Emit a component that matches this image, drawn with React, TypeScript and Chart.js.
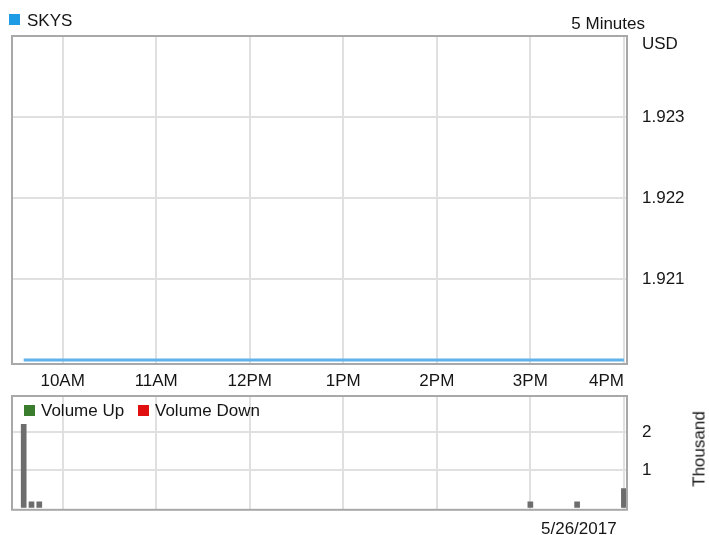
import React, { useEffect, useRef } from "react";
import { Chart, registerables } from "chart.js";

Chart.register(...registerables);

// ---- text ----
const SYMBOL = "SKYS";
const INTERVAL_LABEL = "5 Minutes";
const CURRENCY_LABEL = "USD";
const DATE_LABEL = "5/26/2017";
const VOLUME_UNIT_LABEL = "Thousand";
const VOLUME_UP_LABEL = "Volume Up";
const VOLUME_DOWN_LABEL = "Volume Down";

// ---- data ----
const PRICE_TIMES = ["9:35", "9:40", "9:45", "15:00", "15:30", "16:00"];
const PRICE_VALUES = [1.92, 1.92, 1.92, 1.92, 1.92, 1.92];

const VOLUME_TIMES = ["9:35", "9:40", "9:45", "15:00", "15:30", "16:00"];
const VOLUME_VALUES = [2.21, 0.15, 0.15, 0.15, 0.15, 0.5]; // thousands

const HOUR_TICK_TIMES = ["10:00", "11:00", "12:00", "13:00", "14:00", "15:00", "16:00"];
const HOUR_TICK_LABELS = ["10AM", "11AM", "12PM", "1PM", "2PM", "3PM", "4PM"];

const PRICE_TICKS = [1.921, 1.922, 1.923];
const VOLUME_TICKS = [1, 2];

const X_RANGE = ["9:27.5", "16:02"];
const PRICE_RANGE = [1.91995, 1.924];
const VOLUME_RANGE = [-0.06, 2.96];

// ---- helpers ----
const toMin = (t: string) => {
  const [h, m] = t.split(":").map(Number);
  return h * 60 + m;
};

const FONT = "'Liberation Sans', Arial, sans-serif";
const TEXT_COLOR = "#151515";
const GRID_COLOR = "#e0e0e0";
const FRAME_COLOR = "#a8a8a8";

const framePlugin = {
  id: "frame",
  afterDraw(chart: any) {
    const { ctx, chartArea: a } = chart;
    ctx.save();
    ctx.strokeStyle = FRAME_COLOR;
    ctx.lineWidth = 2;
    ctx.strokeRect(a.left, a.top, a.right - a.left, a.bottom - a.top);
    ctx.restore();
  },
};

export default function App() {
  const priceRef = useRef<HTMLCanvasElement>(null);
  const volRef = useRef<HTMLCanvasElement>(null);

  useEffect(() => {
    Chart.defaults.font.family = FONT;
    Chart.defaults.font.size = 17;
    Chart.defaults.color = TEXT_COLOR;

    const xMin = toMin(X_RANGE[0]);
    const xMax = toMin(X_RANGE[1]);
    const hourTicks = HOUR_TICK_TIMES.map(toMin);

    const priceChart = new Chart(priceRef.current!, {
      type: "line",
      data: {
        datasets: [
          {
            label: SYMBOL,
            data: PRICE_TIMES.map((t, i) => ({ x: toMin(t), y: PRICE_VALUES[i] })),
            borderColor: "#5fb3ea",
            borderWidth: 3,
            pointRadius: 0,
            tension: 0,
          },
        ],
      },
      options: {
        responsive: false,
        animation: false,
        devicePixelRatio: 1,
        layout: { padding: { left: 12, top: 36, right: 0, bottom: 141 } },
        plugins: { legend: { display: false }, tooltip: { enabled: false } },
        scales: {
          x: {
            type: "linear",
            min: xMin,
            max: xMax,
            border: { display: false },
            grid: { color: GRID_COLOR, lineWidth: 2, drawTicks: false },
            ticks: {
              autoSkip: false,
              maxRotation: 0,
              padding: 7,
              align: "inner",
              color: TEXT_COLOR,
              callback: (_v: any, index: number) => (index === 0 ? "" : HOUR_TICK_LABELS[index - 1]),
            },
            afterBuildTicks: (s: any) => {
              s.ticks = [xMin, ...hourTicks].map((v) => ({ value: v }));
            },
            afterFit: (s: any) => {
              s.height = 30;
            },
          },
          y: {
            type: "linear",
            position: "right",
            min: PRICE_RANGE[0],
            max: PRICE_RANGE[1],
            border: { display: false },
            grid: { color: GRID_COLOR, lineWidth: 2, drawTicks: false },
            ticks: {
              padding: 15,
              color: TEXT_COLOR,
              callback: (v: any) => Number(v).toFixed(3),
            },
            afterBuildTicks: (s: any) => {
              s.ticks = PRICE_TICKS.map((v) => ({ value: v }));
            },
            afterFit: (s: any) => {
              s.width = 82;
            },
          },
        },
      },
      plugins: [framePlugin],
    } as any);

    const volChart = new Chart(volRef.current!, {
      type: "bar",
      data: {
        datasets: [
          {
            label: "Volume",
            data: VOLUME_TIMES.map((t, i) => ({ x: toMin(t), y: VOLUME_VALUES[i] })),
            backgroundColor: "#6d6d6d",
            barThickness: 5,
          },
        ],
      },
      options: {
        responsive: false,
        animation: false,
        devicePixelRatio: 1,
        layout: { padding: { left: 12, top: 396, right: 0, bottom: 25 } },
        plugins: { legend: { display: false }, tooltip: { enabled: false } },
        scales: {
          x: {
            type: "linear",
            min: xMin,
            max: xMax,
            offset: false,
            border: { display: false },
            grid: { color: GRID_COLOR, lineWidth: 2, drawTicks: false, offset: false },
            ticks: { display: false },
            afterBuildTicks: (s: any) => {
              s.ticks = hourTicks.map((v) => ({ value: v }));
            },
            afterFit: (s: any) => {
              s.height = 0;
            },
          },
          y: {
            type: "linear",
            position: "right",
            min: VOLUME_RANGE[0],
            max: VOLUME_RANGE[1],
            border: { display: false },
            grid: { color: GRID_COLOR, lineWidth: 2, drawTicks: false },
            ticks: {
              padding: 15,
              color: TEXT_COLOR,
              callback: (v: any) => String(v),
            },
            afterBuildTicks: (s: any) => {
              s.ticks = VOLUME_TICKS.map((v) => ({ value: v }));
            },
            afterFit: (s: any) => {
              s.width = 82;
            },
          },
        },
      },
      plugins: [framePlugin],
    } as any);

    return () => {
      priceChart.destroy();
      volChart.destroy();
    };
  }, []);

  const text: React.CSSProperties = {
    position: "absolute",
    whiteSpace: "nowrap",
    fontFamily: FONT,
    fontSize: 17,
    lineHeight: "17px",
    color: TEXT_COLOR,
  };
  const square = (color: string, left: number, top: number): React.CSSProperties => ({
    position: "absolute",
    left,
    top,
    width: 11,
    height: 11,
    background: color,
  });

  return (
    <div style={{ position: "fixed", left: 0, top: 0, width: 709, height: 535, background: "#fff", overflow: "hidden" }}>
      <canvas ref={volRef} width={709} height={535} style={{ position: "absolute", left: 0, top: 0 }} />
      <canvas ref={priceRef} width={709} height={535} style={{ position: "absolute", left: 0, top: 0 }} />
      <div style={square("#1e9be5", 9, 14)} />
      <div style={{ ...text, left: 27, top: 12 }}>{SYMBOL}</div>
      <div style={{ ...text, right: 709 - 645, top: 15 }}>{INTERVAL_LABEL}</div>
      <div style={{ ...text, left: 642, top: 35 }}>{CURRENCY_LABEL}</div>
      <div style={square("#3a7d2c", 24, 405)} />
      <div style={{ ...text, left: 41, top: 402 }}>{VOLUME_UP_LABEL}</div>
      <div style={square("#e01010", 138, 405)} />
      <div style={{ ...text, left: 155, top: 402 }}>{VOLUME_DOWN_LABEL}</div>
      <div
        style={{
          ...text,
          left: 699,
          top: 449,
          transform: "translate(-50%, -50%) rotate(-90deg)",
        }}
      >
        {VOLUME_UNIT_LABEL}
      </div>
      <div style={{ ...text, left: 541, top: 520 }}>{DATE_LABEL}</div>
    </div>
  );
}
